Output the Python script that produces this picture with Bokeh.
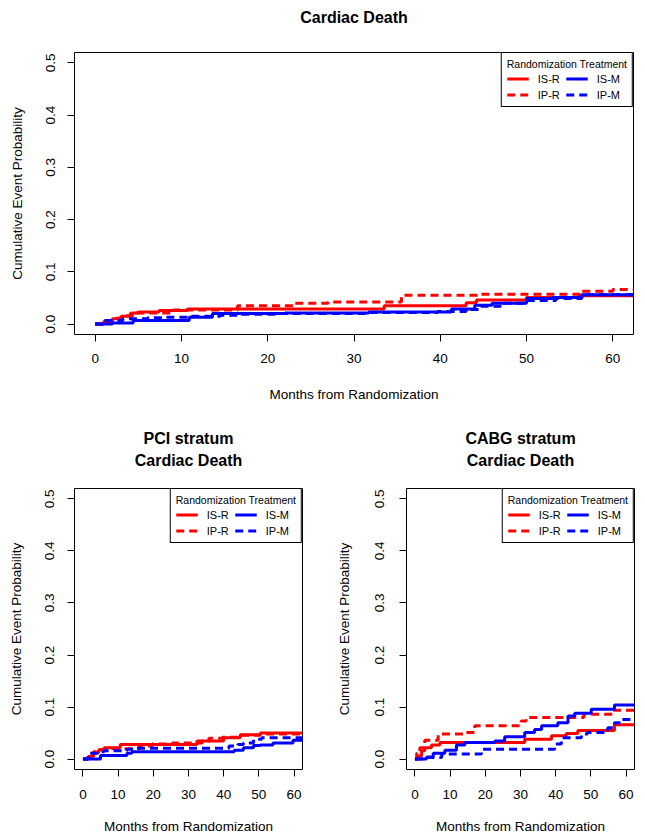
from bokeh.plotting import figure
from bokeh.models import (Range1d, FixedTicker, PrintfTickFormatter, Legend,
                          LegendItem, Title, ColumnDataSource)
from bokeh.layouts import column, row
from bokeh.embed import file_html
from bokeh.resources import INLINE

FONT = "Liberation Sans"

# ---------------- data ----------------
x_ticks = [0, 10, 20, 30, 40, 50, 60]
y_ticks = [0.0, 0.1, 0.2, 0.3, 0.4, 0.5]
legend_title = "Randomization Treatment"
series_names = ["IS-R", "IP-R", "IS-M", "IP-M"]
series_colors = ["#FF0000", "#FF0000", "#0000FF", "#0000FF"]
series_dashed = [False, True, False, True]

# Overall - Cardiac Death
all_isr_t = [0, 1, 2, 3, 4.3, 5, 7.4, 10.7, 33.5, 43, 44.2, 50, 56, 63]
all_isr_p = [0, .005, .010, .015, .021, .023, .026, .029, .035, .041, .046, .051, .054, .054]
all_ipr_t = [0, 1, 2, 3, 4.1, 9, 16.5, 23, 27, 35.5, 44.5, 56.4, 60, 63]
all_ipr_p = [0, .006, .011, .016, .021, .027, .035, .040, .042, .055, .057, .063, .066, .066]
all_ism_t = [0, 2, 4.4, 10.9, 13.6, 22, 31.7, 41.3, 44, 46, 50, 53, 56.4, 63]
all_ism_p = [0, .002, .007, .013, .020, .021, .023, .029, .036, .040, .049, .051, .056, .058]
all_ipm_t = [0, 1.1, 3.2, 6.1, 8.2, 10.9, 14.5, 16.6, 21.2, 31.4, 39.7, 43, 44.7, 47.2, 50, 53.4, 56.4, 63]
all_ipm_p = [0, .007, .010, .012, .013, .015, .017, .019, .020, .022, .024, .028, .034, .040, .045, .049, .056, .060]

# PCI stratum - Cardiac Death
pci_isr_t = [0, 1.5, 3, 4.5, 6, 10.6, 32.4, 40, 44.7, 50.4, 63]
pci_isr_p = [0, .005, .012, .018, .022, .028, .035, .041, .047, .050, .050]
pci_ipr_t = [0, 1.5, 3, 4.5, 6, 16, 19.7, 25.4, 33.9, 35.8, 39.6, 44.7, 50.4, 63]
pci_ipr_p = [0, .008, .014, .018, .020, .025, .029, .031, .035, .040, .042, .046, .048, .048]
pci_ism_t = [0, 5, 12.5, 13.9, 43, 45.6, 48.5, 50.4, 54, 59.7, 63]
pci_ism_p = [0, .007, .011, .014, .017, .022, .026, .027, .031, .036, .036]
pci_ipm_t = [0, 1.5, 4.5, 6, 12.5, 14.8, 41.5, 44, 45.6, 48.5, 50.8, 63]
pci_ipm_p = [0, .011, .014, .016, .019, .021, .025, .028, .031, .038, .041, .043]

# CABG stratum - Cardiac Death
cabg_isr_t = [0, 1, 1.9, 2.8, 4.7, 7.1, 31.2, 38.8, 43, 46.3, 56.7, 63]
cabg_isr_p = [0, .006, .016, .022, .027, .032, .038, .045, .049, .055, .066, .066]
cabg_ipr_t = [0, 0.5, 1.4, 2.8, 6.6, 14.6, 17, 30.2, 31.6, 48, 56.7, 63]
cabg_ipr_p = [0, .011, .022, .036, .048, .051, .064, .073, .080, .086, .094, .094]
cabg_ism_t = [0, 3.3, 5.2, 8.5, 11.8, 14.2, 22.7, 25.5, 31.2, 34, 36, 40.6, 43.5, 45.4, 50.1, 56.7, 63]
cabg_ism_p = [0, .004, .011, .017, .027, .032, .035, .043, .051, .057, .064, .070, .083, .088, .096, .104, .104]
cabg_ipm_t = [0, 2.8, 7.6, 18.9, 39.7, 41.6, 47.3, 49, 54.8, 56.7, 58.6, 63]
cabg_ipm_p = [0, .003, .010, .019, .029, .041, .048, .051, .060, .070, .076, .076]

panels = {
    "all": [(all_isr_t, all_isr_p), (all_ipr_t, all_ipr_p), (all_ism_t, all_ism_p), (all_ipm_t, all_ipm_p)],
    "pci": [(pci_isr_t, pci_isr_p), (pci_ipr_t, pci_ipr_p), (pci_ism_t, pci_ism_p), (pci_ipm_t, pci_ipm_p)],
    "cabg": [(cabg_isr_t, cabg_isr_p), (cabg_ipr_t, cabg_ipr_p), (cabg_ism_t, cabg_ism_p), (cabg_ipm_t, cabg_ipm_p)],
}


def title_model(text, standoff, size="16px"):
    return Title(text=text, align="center", text_font=FONT, text_font_size=size,
                 text_font_style="bold", text_color="black", standoff=standoff)


def make_panel(key, outer_title, inner_titles, spacer, fw, fh, mbl, mbr, mbt, mbb,
               outer_standoff, xtick_standoff, xlab_standoff, ytick_standoff, ylab_standoff):
    p = figure(frame_width=fw, frame_height=fh, output_backend="svg", toolbar_location=None,
               x_range=Range1d(-2.4, 62.4), y_range=Range1d(-0.02, 0.52),
               min_border_left=mbl, min_border_right=mbr, min_border_top=mbt, min_border_bottom=mbb,
               background_fill_color="white", border_fill_color="white")
    p.outline_line_color = "black"
    p.outline_line_width = 1
    p.outline_line_alpha = 1
    p.xgrid.visible = False
    p.ygrid.visible = False

    # outermost title
    p.title.text = outer_title
    p.title.align = "center"
    p.title.text_font = FONT
    p.title.text_font_size = "16px"
    p.title.text_font_style = "bold"
    p.title.text_color = "black"
    p.title.standoff = outer_standoff
    # spacer closest to the frame, then inner titles outward
    p.add_layout(Title(text=" ", text_font_size="1px", standoff=spacer, text_color="white"), "above")
    for t in inner_titles:
        p.add_layout(title_model(t, 0), "above")

    for ax in (p.xaxis[0], p.yaxis[0]):
        ax.axis_line_color = None
        ax.major_tick_in = 0
        ax.major_tick_out = 7
        ax.major_tick_line_color = "black"
        ax.major_tick_line_width = 1
        ax.minor_tick_line_color = None
        ax.major_label_text_font = FONT
        ax.major_label_text_font_size = "13.5px"
        ax.major_label_text_color = "black"
        ax.axis_label_text_font = FONT
        ax.axis_label_text_font_size = "13.5px"
        ax.axis_label_text_font_style = "normal"
        ax.axis_label_text_color = "black"

    p.xaxis.ticker = FixedTicker(ticks=x_ticks)
    p.yaxis.ticker = FixedTicker(ticks=y_ticks)
    p.xaxis.formatter = PrintfTickFormatter(format="%d")
    p.yaxis.formatter = PrintfTickFormatter(format="%.1f")
    p.xaxis.axis_label = "Months from Randomization"
    p.yaxis.axis_label = "Cumulative Event Probability"
    p.xaxis.major_label_standoff = xtick_standoff
    p.xaxis.axis_label_standoff = xlab_standoff
    p.yaxis.major_label_orientation = "vertical"
    p.yaxis.major_label_standoff = ytick_standoff
    p.yaxis.axis_label_standoff = ylab_standoff

    items = []
    for (t, pr), name, col, dashed in zip(panels[key], series_names, series_colors, series_dashed):
        src = ColumnDataSource(data=dict(t=t, p=pr))
        r = p.step(x="t", y="p", source=src, mode="after", line_color=col, line_width=3,
                   line_dash="8 5" if dashed else "solid")
        items.append(LegendItem(label=name, renderers=[r]))

    legend = Legend(items=items, location="top_right", ncols=2, orientation="vertical",
                    title=legend_title, title_text_font=FONT, title_text_font_size="10.5px",
                    title_text_font_style="normal", title_text_color="black", title_standoff=2,
                    label_text_font=FONT, label_text_font_size="11px", label_text_color="black",
                    glyph_width=22, glyph_height=13, label_height=13, label_width=25,
                    label_standoff=9, spacing=3, padding=5, margin=0,
                    border_line_color="black", border_line_width=1, border_line_alpha=1,
                    background_fill_color="white", background_fill_alpha=1)
    p.add_layout(legend)
    return p


top = make_panel("all", "Cardiac Death", [], 24, 559, 282, 74, 4, 52, 70, 0, 12, 21, 12, 19)
bl = make_panel("pci", "PCI stratum", ["Cardiac Death"], 17, 228, 281, 74, 20, 84, 68, 6, 13, 17, 13, 19)
br = make_panel("cabg", "CABG stratum", ["Cardiac Death"], 17, 228, 281, 84, 3, 84, 68, 6, 13, 17, 15, 21)

layout = column(top, row(bl, br))
open("out.html", "w").write(file_html(layout, INLINE))
